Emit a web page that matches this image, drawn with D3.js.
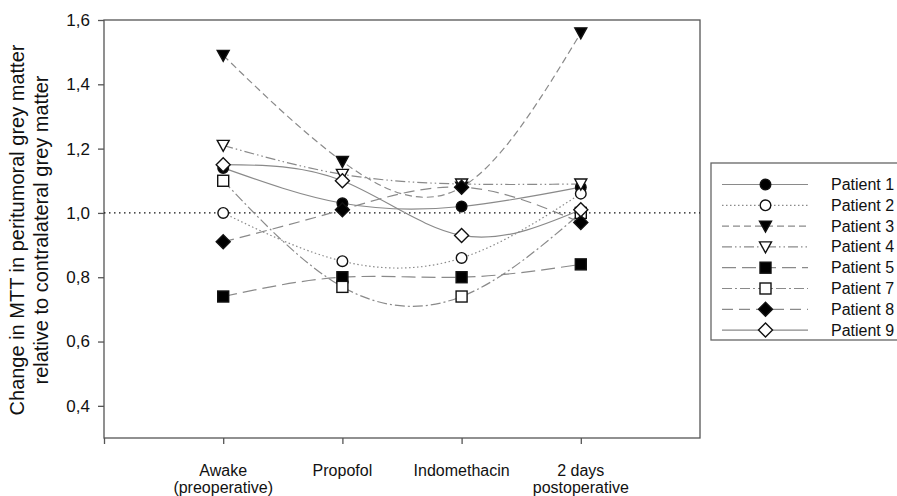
<!DOCTYPE html>
<html>
<head>
<meta charset="utf-8">
<script src="https://cdn.jsdelivr.net/npm/d3@7"></script>
<style>
  body { margin: 0; background: #fff; }
  svg text { font-family: "Liberation Sans", Arial, sans-serif; fill: #111; }
</style>
</head>
<body>
<div class="canvas"></div>
<script>
// conditions on the x axis
const stages = ["Awake\n(preoperative)", "Propofol", "Indomethacin", "2 days\npostoperative"];
const yTicks = [0.4, 0.6, 0.8, 1.0, 1.2, 1.4, 1.6];

// MTT ratio per patient
const patient1 = [1.14, 1.03, 1.02, 1.08];
const patient2 = [1.0, 0.85, 0.86, 1.06];
const patient3 = [1.49, 1.16, 1.08, 1.56];
const patient4 = [1.21, 1.12, 1.09, 1.09];
const patient5 = [0.74, 0.8, 0.8, 0.84];
const patient7 = [1.1, 0.77, 0.74, 1.0];
const patient8 = [0.91, 1.01, 1.08, 0.97];
const patient9 = [1.15, 1.1, 0.93, 1.01];

const series = [
  { name: "Patient 1", values: patient1, shape: "circle", fill: true, dash: null },
  { name: "Patient 2", values: patient2, shape: "circle", fill: false, dash: "1.5,2.5" },
  { name: "Patient 3", values: patient3, shape: "tri", fill: true, dash: "7,4" },
  { name: "Patient 4", values: patient4, shape: "tri", fill: false, dash: "10,3,1.5,3,1.5,3" },
  { name: "Patient 5", values: patient5, shape: "square", fill: true, dash: "14,6" },
  { name: "Patient 7", values: patient7, shape: "square", fill: false, dash: "10,3,2,3" },
  { name: "Patient 8", values: patient8, shape: "diamond", fill: true, dash: "11,6" },
  { name: "Patient 9", values: patient9, shape: "diamond", fill: false, dash: null }
];

const dims = { width: 897, height: 496 };
const plot = { left: 104, right: 700, top: 20, bottom: 438 };

const svg = d3.select(".canvas").append("svg")
  .attr("width", dims.width)
  .attr("height", dims.height);

const x = d3.scaleLinear().domain([0, 5]).range([plot.left, plot.right]);
const y = d3.scaleLinear().domain([0.3, 1.6]).range([plot.bottom, plot.top]);

// frame
svg.append("rect")
  .attr("x", plot.left).attr("y", plot.top)
  .attr("width", plot.right - plot.left).attr("height", plot.bottom - plot.top)
  .attr("fill", "none").attr("stroke", "#555").attr("stroke-width", 1.3);

// y axis
const yAxis = svg.append("g")
  .attr("transform", `translate(${plot.left},0)`)
  .call(d3.axisLeft(y).tickValues(yTicks).tickSize(6).tickPadding(8)
    .tickFormat((d) => d3.format(".1f")(d).replace(".", ",")));
yAxis.select(".domain").remove();
yAxis.selectAll("line").attr("stroke", "#555").attr("stroke-width", 1.3);
yAxis.selectAll("text").attr("font-size", 17).attr("fill", "#111")
  .style("font-family", "Liberation Sans, Arial, sans-serif");

// x axis ticks
const xAxis = svg.append("g")
  .attr("transform", `translate(0,${plot.bottom})`)
  .call(d3.axisBottom(x).tickValues([0, 1, 2, 3, 4]).tickSize(6).tickFormat(""));
xAxis.select(".domain").remove();
xAxis.selectAll("line").attr("stroke", "#555").attr("stroke-width", 1.3);

// x labels
stages.forEach((s, i) => {
  const lines = s.split("\n");
  const t = svg.append("text")
    .attr("text-anchor", "middle")
    .attr("font-size", 16)
    .attr("x", x(i + 1))
    .attr("y", 476);
  lines.forEach((l, j) => {
    t.append("tspan").attr("x", x(i + 1)).attr("dy", j === 0 ? 0 : 17).text(l);
  });
});

// y title
const yTitle = svg.append("text")
  .attr("text-anchor", "middle")
  .attr("font-size", 20)
  .attr("transform", `translate(24,230) rotate(-90)`);
yTitle.append("tspan").attr("x", 0).attr("dy", 0).text("Change in MTT in peritumoral grey matter");
yTitle.append("tspan").attr("x", 0).attr("dy", 24).text("relative to contralateral grey matter");

// reference line at 1.0
svg.append("line")
  .attr("x1", plot.left).attr("x2", plot.right)
  .attr("y1", y(1)).attr("y2", y(1))
  .attr("stroke", "#111").attr("stroke-width", 1.4)
  .attr("stroke-dasharray", "1.5,3.5");

const line = d3.line()
  .x((d, i) => x(i + 1))
  .y((d) => y(d))
  .curve(d3.curveNatural);

const drawMarker = (g, s, cx, cy) => {
  const fill = s.fill ? "#000" : "#fff";
  let m;
  if (s.shape === "circle") {
    m = g.append("circle").attr("cx", cx).attr("cy", cy).attr("r", 5.3);
  } else if (s.shape === "square") {
    m = g.append("rect").attr("x", cx - 5.5).attr("y", cy - 5.5).attr("width", 11).attr("height", 11);
  } else if (s.shape === "tri") {
    m = g.append("path").attr("d", `M${cx - 6},${cy - 5} L${cx + 6},${cy - 5} L${cx},${cy + 6} Z`);
  } else {
    m = g.append("path").attr("d", `M${cx},${cy - 7} L${cx + 7},${cy} L${cx},${cy + 7} L${cx - 7},${cy} Z`);
  }
  m.attr("fill", fill).attr("stroke", "#111").attr("stroke-width", 1.4);
};

// lines first
const lineGroup = svg.append("g");
series.forEach((s) => {
  lineGroup.append("path")
    .datum(s.values)
    .attr("d", line)
    .attr("fill", "none")
    .attr("stroke", "#8a8a8a")
    .attr("stroke-width", 1.2)
    .attr("stroke-dasharray", s.dash);
});

// markers
const markGroup = svg.append("g");
series.forEach((s) => {
  s.values.forEach((v, i) => drawMarker(markGroup, s, x(i + 1), y(v)));
});

// legend
const legend = svg.append("g");
legend.append("rect")
  .attr("x", 711).attr("y", 163)
  .attr("width", 200).attr("height", 177)
  .attr("fill", "#fff").attr("stroke", "#666").attr("stroke-width", 1.3);

series.forEach((s, i) => {
  const ly = 184.5 + i * 20.8;
  legend.append("line")
    .attr("x1", 722).attr("x2", 808)
    .attr("y1", ly).attr("y2", ly)
    .attr("stroke", "#8a8a8a").attr("stroke-width", 1.2)
    .attr("stroke-dasharray", s.dash);
  drawMarker(legend, s, 765.5, ly);
  legend.append("text")
    .attr("x", 831).attr("y", ly + 5.5)
    .attr("font-size", 16)
    .text(s.name);
});
</script>
</body>
</html>
